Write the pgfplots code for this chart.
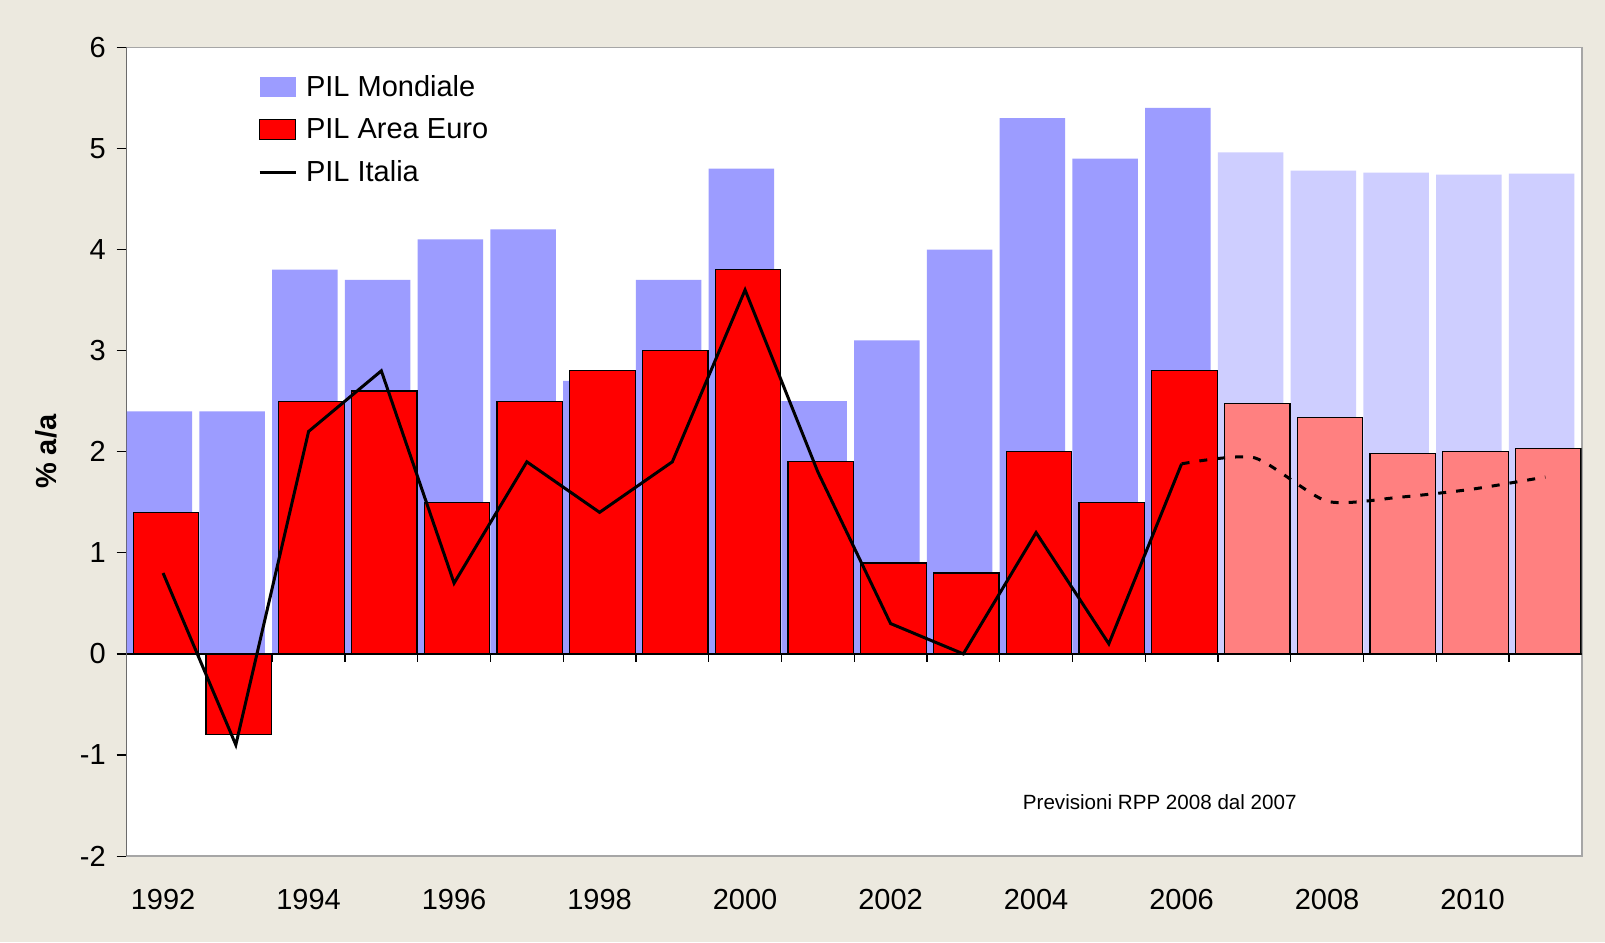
\documentclass[border=0pt]{standalone}
\usepackage{pgfplots}
\pgfplotsset{compat=1.18}
\usepackage{fontspec}
\setmainfont{Liberation Sans}
\definecolor{bgc}{RGB}{236,233,223}
\definecolor{world}{RGB}{156,156,255}
\definecolor{worldf}{RGB}{206,206,255}
\definecolor{euro}{RGB}{255,0,0}
\definecolor{eurof}{RGB}{255,128,128}
\begin{document}
\begin{tikzpicture}
\fill[bgc] (-63.35pt,-43pt) rectangle (739.15pt,428.05pt);
\begin{axis}[
  scale only axis, width=727.5pt, height=404.4pt,
  xmin=-0.5, xmax=19.5, ymin=-2, ymax=6,
  axis background/.style={fill=white},
  axis line style={gray!70, line width=0.8pt},
  xtick={0,2,4,6,8,10,12,14,16,18},
  xticklabels={1992,1994,1996,1998,2000,2002,2004,2006,2008,2010},
  x tick style={draw=none},
  ytick={-2,-1,0,1,2,3,4,5,6},
  ytick pos=left, tick align=outside,
  y tick style={black, line width=0.6pt},
  major tick length=5pt,
  /pgf/number format/assume math mode=true,
  tick label style={font=\fontsize{14.5}{17}\selectfont},
  xticklabel style={yshift=-8pt},
  yticklabel style={xshift=-2pt},
  ylabel={\textbf{\% a/a}},
  ylabel style={at={(axis description cs:-0.055,0.5)}, anchor=center, font=\fontsize{14.5}{17}\selectfont},
  legend style={at={(rel axis cs:0.09,0.971)}, anchor=north west, draw=none, fill=none,
    font=\fontsize{14.5}{17}\selectfont, row sep=5.6pt, column sep=2.5pt, inner sep=0pt},
  legend cell align=left,
]
% PIL Mondiale
\addplot[ybar, bar width=0.9, bar shift=-0.05, fill=world, draw=none,
  legend image code/.code={\fill[world] (0pt,-5pt) rectangle (18pt,5pt);}]
  coordinates {(0,2.4) (1,2.4) (2,3.8) (3,3.7) (4,4.1) (5,4.2) (6,2.7) (7,3.7) (8,4.8) (9,2.5)
               (10,3.1) (11,4.0) (12,5.3) (13,4.9) (14,5.4)};
\addlegendentry{PIL Mondiale}
\addplot[ybar, bar width=0.9, bar shift=-0.05, fill=worldf, draw=none, forget plot]
  coordinates {(15,4.96) (16,4.78) (17,4.76) (18,4.74) (19,4.75)};
% PIL Area Euro
\addplot[ybar, bar width=0.9, bar shift=0.04, fill=euro, draw=black, line width=0.6pt,
  legend image code/.code={\draw[fill=euro, draw=black, line width=0.6pt] (0pt,-5pt) rectangle (18pt,5pt);}]
  coordinates {(0,1.4) (1,-0.8) (2,2.5) (3,2.6) (4,1.5) (5,2.5) (6,2.8) (7,3.0) (8,3.8) (9,1.9)
               (10,0.9) (11,0.8) (12,2.0) (13,1.5) (14,2.8)};
\addlegendentry{PIL Area Euro}
\addplot[ybar, bar width=0.9, bar shift=0.04, fill=eurof, draw=black, line width=0.6pt, forget plot]
  coordinates {(15,2.48) (16,2.34) (17,1.98) (18,2.0) (19,2.03)};
% zero line and its ticks
\draw[black, line width=0.8pt] (axis cs:-0.5,0) -- (axis cs:19.5,0);
\draw[black, line width=0.8pt] (rel axis cs:0,0) -- (rel axis cs:0,1);
\addplot[ycomb, black, line width=0.6pt, no marks, forget plot]
  coordinates {(0.5,-0.08) (1.5,-0.08) (2.5,-0.08) (3.5,-0.08) (4.5,-0.08) (5.5,-0.08) (6.5,-0.08)
               (7.5,-0.08) (8.5,-0.08) (9.5,-0.08) (10.5,-0.08) (11.5,-0.08) (12.5,-0.08)
               (13.5,-0.08) (14.5,-0.08) (15.5,-0.08) (16.5,-0.08) (17.5,-0.08) (18.5,-0.08)};
% PIL Italia
\addplot[black, line width=1.5pt, no marks,
  legend image code/.code={\draw[black, line width=1.5pt] (0pt,0pt) -- (18pt,0pt);}]
  coordinates {(0,0.8) (1,-0.9) (2,2.2) (3,2.8) (4,0.7) (5,1.9) (6,1.4) (7,1.9) (8,3.6) (9,1.8)
               (10,0.3) (11,0.0) (12,1.2) (13,0.1) (14,1.88)};
\addlegendentry{PIL Italia}
\addplot[black, line width=1.5pt, no marks, dash pattern=on 4pt off 5pt, smooth, tension=0.4, forget plot]
  coordinates {(14,1.88) (15,1.94) (16,1.51) (17,1.55) (18,1.63) (19,1.75)};
\node[font=\fontsize{10.3}{12}\selectfont] at (axis cs:13.7,-1.47) {Previsioni RPP 2008 dal 2007};
\end{axis}
\pgfresetboundingbox
\path[use as bounding box] (-63.35pt,-43pt) rectangle (739.15pt,428.05pt);
\end{tikzpicture}
\end{document}
